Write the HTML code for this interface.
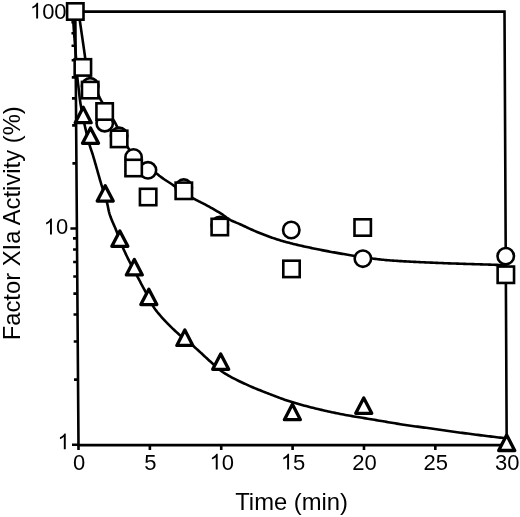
<!DOCTYPE html>
<html><head><meta charset="utf-8"><title>Factor XIa Activity</title>
<style>html,body{margin:0;padding:0;background:#fff}body{width:520px;height:517px;overflow:hidden;font-family:"Liberation Sans",sans-serif}svg{display:block}svg{filter:grayscale(1)}</style>
</head><body>
<svg width="520" height="517" viewBox="0 0 520 517">
<rect width="520" height="517" fill="#fff"/>
<polygon points="75.3,11.6 504.5,11.6 506.7,445.1 78.5,445.1" fill="none" stroke="#000" stroke-width="2.6" stroke-linejoin="miter"/>
<path d="M78.50,444.70h-6.5 M78.02,379.62h-4.0 M77.74,341.55h-4.0 M77.54,314.53h-4.0 M77.38,293.58h-4.0 M77.26,276.46h-4.0 M77.15,261.99h-4.0 M77.06,249.45h-4.0 M76.97,238.39h-4.0 M76.90,228.50h-6.5 M76.42,163.42h-4.0 M76.14,125.35h-4.0 M75.94,98.33h-4.0 M75.79,77.38h-4.0 M75.66,60.26h-4.0 M75.55,45.79h-4.0 M75.46,33.25h-4.0 M75.38,22.19h-4.0 M75.31,12.30h-6.5 M78.50,445.1v5.0 M149.87,445.1v5.0 M221.23,445.1v5.0 M292.60,445.1v5.0 M363.97,445.1v5.0 M435.33,445.1v5.0 M506.70,445.1v5.0" stroke="#000" stroke-width="2.6" fill="none"/>
<path d="M78.60,12.00 L78.80,13.37 L78.99,14.75 L79.19,16.12 L79.38,17.50 L79.58,18.87 L79.78,20.24 L79.97,21.62 L80.17,22.99 L80.37,24.37 L80.57,25.74 L80.77,27.11 L80.97,28.49 L81.16,29.86 L81.36,31.24 L81.56,32.61 L81.76,33.98 L81.96,35.36 L82.16,36.73 L82.36,38.10 L82.56,39.48 L82.76,40.85 L82.96,42.23 L83.16,43.60 L83.35,44.97 L83.55,46.35 L83.75,47.72 L83.94,49.10 L84.14,50.47 L84.33,51.84 L84.53,53.22 L84.72,54.59 L84.91,55.97 L85.09,57.35 L85.26,58.74 L85.42,60.12 L85.60,61.50 L85.80,62.87 L86.04,64.22 L86.31,65.55 L86.62,66.88 L86.96,68.21 L87.32,69.53 L87.72,70.85 L88.14,72.17 L88.59,73.48 L89.06,74.78 L89.55,76.09 L90.07,77.39 L90.60,78.68 L91.14,79.97 L91.71,81.26 L92.28,82.54 L92.87,83.82 L93.46,85.10 L94.07,86.37 L94.68,87.64 L95.30,88.90 L95.92,90.16 L96.54,91.42 L97.16,92.67 L97.79,93.92 L98.40,95.17 L99.02,96.42 L99.63,97.66 L100.27,98.88 L100.94,100.10 L101.64,101.30 L102.34,102.50 L103.05,103.69 L103.78,104.88 L104.52,106.05 L105.27,107.22 L106.03,108.38 L106.79,109.54 L107.56,110.70 L108.33,111.86 L109.10,113.02 L109.87,114.18 L110.62,115.34 L111.37,116.51 L112.11,117.68 L112.84,118.87 L113.54,120.06 L114.23,121.26 L114.90,122.47 L115.55,123.70 L116.19,124.94 L116.82,126.18 L117.43,127.43 L118.04,128.69 L118.64,129.95 L119.24,131.22 L119.84,132.48 L120.43,133.75 L121.03,135.01 L121.64,136.27 L122.25,137.52 L122.87,138.76 L123.50,140.00 L124.15,141.22 L124.81,142.43 L125.48,143.63 L126.18,144.81 L126.90,145.98 L127.64,147.13 L128.41,148.28 L129.19,149.43 L129.99,150.58 L130.80,151.72 L131.64,152.86 L132.49,153.99 L133.36,155.10 L134.25,156.19 L135.15,157.27 L136.07,158.32 L137.01,159.34 L137.96,160.33 L138.93,161.30 L139.91,162.22 L140.93,163.11 L141.98,163.95 L143.08,164.77 L144.21,165.55 L145.37,166.32 L146.55,167.06 L147.74,167.80 L148.95,168.53 L150.15,169.26 L151.36,169.99 L152.55,170.73 L153.73,171.49 L154.90,172.27 L156.03,173.07 L157.13,173.92 L158.19,174.81 L159.25,175.71 L160.35,176.56 L161.46,177.38 L162.59,178.18 L163.73,178.97 L164.88,179.74 L166.04,180.51 L167.21,181.27 L168.38,182.02 L169.55,182.77 L170.72,183.52 L171.88,184.28 L173.05,185.04 L174.21,185.80 L175.36,186.58 L176.51,187.36 L177.66,188.14 L178.80,188.93 L179.95,189.72 L181.10,190.50 L182.24,191.29 L183.39,192.08 L184.54,192.86 L185.70,193.63 L186.85,194.40 L188.02,195.15 L189.18,195.90 L190.36,196.64 L191.54,197.36 L192.73,198.07 L193.92,198.76 L195.14,199.43 L196.36,200.08 L197.59,200.71 L198.83,201.34 L200.08,201.96 L201.32,202.58 L202.57,203.20 L203.81,203.83 L205.04,204.47 L206.26,205.12 L207.48,205.79 L208.70,206.46 L209.91,207.13 L211.12,207.81 L212.33,208.49 L213.54,209.18 L214.75,209.87 L215.95,210.57 L217.14,211.28 L218.34,211.99 L219.52,212.71 L220.70,213.44 L221.87,214.18 L223.02,214.95 L224.16,215.77 L225.28,216.60 L226.40,217.43 L227.53,218.25 L228.68,219.02 L229.86,219.72 L231.07,220.36 L232.32,220.95 L233.58,221.52 L234.87,222.06 L236.16,222.59 L237.45,223.11 L238.74,223.65 L240.01,224.21 L241.28,224.78 L242.54,225.36 L243.79,225.96 L245.05,226.55 L246.30,227.15 L247.56,227.75 L248.82,228.34 L250.07,228.92 L251.34,229.50 L252.60,230.06 L253.88,230.61 L255.15,231.15 L256.44,231.67 L257.72,232.19 L259.01,232.71 L260.30,233.23 L261.59,233.75 L262.88,234.25 L264.18,234.76 L265.48,235.26 L266.78,235.75 L268.09,236.24 L269.39,236.71 L270.70,237.19 L272.01,237.65 L273.32,238.11 L274.64,238.55 L275.95,238.99 L277.27,239.42 L278.59,239.84 L279.92,240.25 L281.24,240.64 L282.57,241.03 L283.90,241.41 L285.23,241.78 L286.57,242.15 L287.91,242.51 L289.25,242.86 L290.60,243.21 L291.94,243.55 L293.29,243.89 L294.64,244.22 L295.99,244.55 L297.34,244.87 L298.70,245.19 L300.05,245.51 L301.41,245.82 L302.77,246.12 L304.12,246.42 L305.48,246.72 L306.84,247.02 L308.19,247.31 L309.55,247.60 L310.91,247.89 L312.26,248.18 L313.62,248.46 L314.98,248.74 L316.34,249.02 L317.70,249.29 L319.06,249.56 L320.42,249.83 L321.78,250.10 L323.14,250.37 L324.51,250.63 L325.87,250.89 L327.24,251.15 L328.60,251.40 L329.97,251.66 L331.33,251.91 L332.70,252.16 L334.07,252.40 L335.43,252.65 L336.80,252.89 L338.17,253.14 L339.54,253.38 L340.90,253.61 L342.27,253.85 L343.64,254.09 L345.01,254.32 L346.38,254.55 L347.75,254.78 L349.12,255.01 L350.49,255.24 L351.86,255.46 L353.23,255.69 L354.59,255.91 L355.96,256.14 L357.33,256.36 L358.71,256.58 L360.08,256.80 L361.45,257.01 L362.82,257.23 L364.19,257.44 L365.57,257.64 L366.94,257.84 L368.32,258.03 L369.69,258.22 L371.07,258.40 L372.44,258.57 L373.82,258.74 L375.20,258.90 L376.58,259.07 L377.96,259.23 L379.34,259.39 L380.72,259.54 L382.10,259.69 L383.48,259.83 L384.86,259.96 L386.24,260.09 L387.63,260.21 L389.01,260.32 L390.39,260.43 L391.78,260.53 L393.16,260.63 L394.54,260.72 L395.93,260.81 L397.31,260.90 L398.70,260.99 L400.08,261.08 L401.47,261.17 L402.85,261.25 L404.24,261.33 L405.62,261.41 L407.01,261.49 L408.39,261.56 L409.78,261.64 L411.17,261.71 L412.55,261.78 L413.94,261.85 L415.33,261.92 L416.71,261.99 L418.10,262.05 L419.49,262.12 L420.88,262.18 L422.26,262.25 L423.65,262.31 L425.04,262.37 L426.43,262.43 L427.81,262.49 L429.20,262.55 L430.59,262.61 L431.97,262.67 L433.36,262.73 L434.75,262.79 L436.14,262.84 L437.52,262.90 L438.91,262.96 L440.30,263.01 L441.68,263.07 L443.07,263.12 L444.46,263.18 L445.84,263.23 L447.23,263.28 L448.62,263.33 L450.01,263.38 L451.39,263.43 L452.78,263.48 L454.17,263.52 L455.55,263.57 L456.94,263.62 L458.33,263.66 L459.72,263.71 L461.10,263.75 L462.49,263.80 L463.88,263.84 L465.27,263.88 L466.65,263.93 L468.04,263.97 L469.43,264.01 L470.82,264.06 L472.20,264.10 L473.59,264.14 L474.98,264.18 L476.37,264.23 L477.75,264.27 L479.14,264.31 L480.53,264.35 L481.92,264.40 L483.30,264.44 L484.69,264.48 L486.08,264.53 L487.47,264.57 L488.85,264.62 L490.24,264.66 L491.63,264.71 L493.02,264.75 L494.40,264.80 L495.79,264.85 L497.18,264.90 L498.56,264.94 L499.95,265.00 L501.34,265.05 L502.73,265.10 L504.11,265.15 L505.50,265.20" stroke="#000" stroke-width="2.6" fill="none" stroke-linejoin="round"/>
<path d="M73.00,14.00 L73.07,15.74 L73.14,17.48 L73.21,19.22 L73.30,20.96 L73.39,22.70 L73.49,24.43 L73.60,26.17 L73.71,27.91 L73.83,29.65 L73.96,31.38 L74.08,33.12 L74.22,34.86 L74.35,36.59 L74.49,38.33 L74.63,40.06 L74.77,41.80 L74.91,43.53 L75.05,45.27 L75.19,47.01 L75.33,48.74 L75.46,50.48 L75.60,52.22 L75.72,53.95 L75.85,55.69 L75.97,57.43 L76.08,59.16 L76.19,60.90 L76.30,62.64 L76.41,64.38 L76.52,66.12 L76.63,67.86 L76.75,69.59 L76.87,71.33 L77.00,73.07 L77.13,74.80 L77.27,76.54 L77.42,78.27 L77.60,80.00 L77.80,81.73 L78.01,83.46 L78.23,85.19 L78.45,86.91 L78.66,88.64 L78.86,90.37 L79.05,92.10 L79.24,93.83 L79.43,95.57 L79.63,97.30 L79.84,99.02 L80.07,100.75 L80.31,102.47 L80.58,104.20 L80.86,105.91 L81.17,107.63 L81.48,109.34 L81.79,111.05 L82.12,112.76 L82.45,114.47 L82.79,116.18 L83.13,117.89 L83.48,119.60 L83.84,121.31 L84.21,123.01 L84.58,124.72 L84.96,126.42 L85.34,128.12 L85.73,129.82 L86.13,131.51 L86.54,133.21 L86.96,134.90 L87.38,136.59 L87.80,138.28 L88.24,139.96 L88.68,141.64 L89.13,143.32 L89.59,144.99 L90.10,146.66 L90.63,148.31 L91.19,149.96 L91.75,151.62 L92.30,153.27 L92.83,154.93 L93.34,156.59 L93.83,158.26 L94.33,159.93 L94.81,161.60 L95.29,163.28 L95.77,164.95 L96.24,166.63 L96.72,168.30 L97.19,169.98 L97.66,171.66 L98.13,173.33 L98.60,175.01 L99.08,176.68 L99.56,178.36 L100.04,180.03 L100.53,181.70 L101.02,183.37 L101.53,185.04 L102.05,186.70 L102.59,188.36 L103.13,190.02 L103.67,191.67 L104.21,193.33 L104.75,194.99 L105.28,196.65 L105.79,198.31 L106.28,199.98 L106.74,201.66 L107.18,203.34 L107.58,205.03 L107.93,206.74 L108.27,208.46 L108.62,210.17 L109.00,211.86 L109.45,213.53 L109.96,215.18 L110.53,216.82 L111.14,218.44 L111.79,220.06 L112.47,221.67 L113.17,223.27 L113.87,224.88 L114.57,226.48 L115.26,228.09 L115.93,229.70 L116.57,231.32 L117.20,232.94 L117.82,234.57 L118.44,236.20 L119.05,237.83 L119.67,239.46 L120.29,241.09 L120.92,242.71 L121.56,244.33 L122.21,245.94 L122.88,247.55 L123.57,249.15 L124.27,250.73 L125.00,252.32 L125.73,253.90 L126.48,255.47 L127.24,257.04 L128.01,258.60 L128.78,260.17 L129.56,261.72 L130.34,263.28 L131.13,264.83 L131.94,266.37 L132.75,267.91 L133.57,269.45 L134.40,270.98 L135.23,272.51 L136.05,274.05 L136.87,275.58 L137.69,277.12 L138.51,278.66 L139.33,280.19 L140.14,281.73 L140.96,283.27 L141.78,284.81 L142.59,286.34 L143.41,287.88 L144.23,289.42 L145.04,290.96 L145.84,292.51 L146.62,294.07 L147.40,295.64 L148.17,297.21 L148.95,298.78 L149.75,300.33 L150.56,301.88 L151.39,303.40 L152.26,304.89 L153.17,306.36 L154.13,307.79 L155.14,309.21 L156.19,310.60 L157.27,311.98 L158.38,313.33 L159.51,314.67 L160.64,315.99 L161.78,317.29 L162.94,318.59 L164.11,319.87 L165.30,321.15 L166.51,322.41 L167.72,323.66 L168.95,324.90 L170.19,326.13 L171.44,327.35 L172.69,328.56 L173.96,329.77 L175.23,330.96 L176.51,332.14 L177.79,333.31 L179.08,334.47 L180.40,335.61 L181.73,336.72 L183.07,337.83 L184.43,338.92 L185.79,340.01 L187.16,341.09 L188.53,342.18 L189.89,343.27 L191.25,344.36 L192.59,345.47 L193.92,346.59 L195.24,347.73 L196.54,348.88 L197.84,350.04 L199.13,351.21 L200.41,352.39 L201.69,353.57 L202.97,354.76 L204.24,355.95 L205.51,357.13 L206.79,358.32 L208.07,359.50 L209.36,360.68 L210.65,361.84 L211.95,363.00 L213.26,364.15 L214.56,365.30 L215.87,366.47 L217.18,367.64 L218.50,368.79 L219.84,369.91 L221.20,370.97 L222.60,371.97 L224.03,372.92 L225.49,373.84 L226.97,374.73 L228.48,375.61 L230.00,376.46 L231.54,377.29 L233.09,378.10 L234.65,378.90 L236.22,379.69 L237.80,380.46 L239.37,381.22 L240.95,381.97 L242.53,382.72 L244.11,383.46 L245.68,384.19 L247.26,384.91 L248.85,385.62 L250.44,386.32 L252.04,387.01 L253.64,387.69 L255.25,388.36 L256.86,389.02 L258.48,389.68 L260.10,390.33 L261.72,390.98 L263.34,391.62 L264.96,392.25 L266.59,392.88 L268.21,393.51 L269.84,394.14 L271.46,394.76 L273.09,395.39 L274.71,396.01 L276.34,396.64 L277.97,397.26 L279.61,397.87 L281.24,398.48 L282.88,399.07 L284.52,399.65 L286.17,400.22 L287.82,400.78 L289.47,401.31 L291.13,401.83 L292.79,402.33 L294.45,402.82 L296.12,403.30 L297.79,403.78 L299.47,404.25 L301.14,404.72 L302.82,405.18 L304.50,405.64 L306.18,406.09 L307.87,406.53 L309.56,406.97 L311.25,407.40 L312.94,407.83 L314.63,408.25 L316.33,408.66 L318.02,409.07 L319.72,409.48 L321.42,409.88 L323.12,410.27 L324.82,410.66 L326.52,411.04 L328.22,411.42 L329.92,411.79 L331.63,412.16 L333.33,412.53 L335.03,412.88 L336.74,413.24 L338.44,413.59 L340.15,413.93 L341.85,414.27 L343.56,414.59 L345.27,414.92 L346.98,415.23 L348.69,415.54 L350.41,415.84 L352.12,416.13 L353.84,416.43 L355.56,416.71 L357.28,417.00 L359.00,417.28 L360.72,417.56 L362.44,417.84 L364.16,418.12 L365.88,418.40 L367.60,418.69 L369.31,418.97 L371.03,419.25 L372.75,419.54 L374.47,419.83 L376.18,420.12 L377.90,420.42 L379.62,420.71 L381.33,421.01 L383.05,421.30 L384.77,421.59 L386.48,421.89 L388.20,422.18 L389.92,422.47 L391.63,422.76 L393.35,423.05 L395.07,423.33 L396.79,423.61 L398.51,423.89 L400.23,424.16 L401.94,424.43 L403.67,424.70 L405.39,424.96 L407.11,425.21 L408.83,425.46 L410.55,425.71 L412.28,425.95 L414.00,426.19 L415.73,426.43 L417.45,426.66 L419.18,426.89 L420.91,427.13 L422.63,427.36 L424.36,427.59 L426.08,427.82 L427.81,428.05 L429.54,428.28 L431.26,428.52 L432.99,428.76 L434.71,429.00 L436.43,429.24 L438.16,429.49 L439.88,429.74 L441.60,429.99 L443.33,430.24 L445.05,430.49 L446.77,430.74 L448.50,430.99 L450.22,431.24 L451.94,431.49 L453.67,431.73 L455.39,431.97 L457.12,432.21 L458.84,432.45 L460.57,432.68 L462.29,432.90 L464.02,433.13 L465.75,433.36 L467.47,433.58 L469.20,433.81 L470.93,434.03 L472.65,434.25 L474.38,434.47 L476.11,434.69 L477.83,434.91 L479.56,435.13 L481.29,435.34 L483.02,435.56 L484.75,435.77 L486.47,435.98 L488.20,436.19 L489.93,436.40 L491.66,436.61 L493.39,436.81 L495.12,437.02 L496.85,437.22 L498.58,437.42 L500.31,437.62 L502.04,437.81 L503.77,438.01 L505.50,438.20" stroke="#000" stroke-width="2.6" fill="none" stroke-linejoin="round"/>
<circle cx="90.15" cy="86.3" r="8.2" fill="#fff" stroke="#000" stroke-width="2.6"/>
<circle cx="104.72" cy="123.2" r="8.2" fill="#fff" stroke="#000" stroke-width="2.6"/>
<circle cx="119.11" cy="135.8" r="8.2" fill="#fff" stroke="#000" stroke-width="2.6"/>
<circle cx="133.56" cy="157.4" r="8.2" fill="#fff" stroke="#000" stroke-width="2.6"/>
<circle cx="147.94" cy="170.3" r="8.2" fill="#fff" stroke="#000" stroke-width="2.6"/>
<circle cx="183.80" cy="187.6" r="8.2" fill="#fff" stroke="#000" stroke-width="2.6"/>
<circle cx="219.78" cy="225" r="8.2" fill="#fff" stroke="#000" stroke-width="2.6"/>
<circle cx="291.26" cy="230" r="8.2" fill="#fff" stroke="#000" stroke-width="2.6"/>
<circle cx="362.88" cy="258.65" r="8.2" fill="#fff" stroke="#000" stroke-width="2.6"/>
<circle cx="505.74" cy="256.15" r="8.2" fill="#fff" stroke="#000" stroke-width="2.6"/>
<rect x="67.10" y="3.30" width="16.4" height="16.4" fill="#fff" stroke="#000" stroke-width="2.6"/>
<rect x="74.66" y="59.20" width="16.4" height="16.4" fill="#fff" stroke="#000" stroke-width="2.6"/>
<rect x="81.98" y="81.90" width="16.4" height="16.4" fill="#fff" stroke="#000" stroke-width="2.6"/>
<rect x="96.44" y="103.30" width="16.4" height="16.4" fill="#fff" stroke="#000" stroke-width="2.6"/>
<rect x="110.93" y="130.70" width="16.4" height="16.4" fill="#fff" stroke="#000" stroke-width="2.6"/>
<rect x="125.43" y="159.80" width="16.4" height="16.4" fill="#fff" stroke="#000" stroke-width="2.6"/>
<rect x="139.93" y="188.80" width="16.4" height="16.4" fill="#fff" stroke="#000" stroke-width="2.6"/>
<rect x="175.62" y="182.60" width="16.4" height="16.4" fill="#fff" stroke="#000" stroke-width="2.6"/>
<rect x="211.59" y="218.80" width="16.4" height="16.4" fill="#fff" stroke="#000" stroke-width="2.6"/>
<rect x="283.30" y="260.70" width="16.4" height="16.4" fill="#fff" stroke="#000" stroke-width="2.6"/>
<rect x="354.50" y="219.30" width="16.4" height="16.4" fill="#fff" stroke="#000" stroke-width="2.6"/>
<rect x="497.64" y="266.55" width="16.4" height="16.4" fill="#fff" stroke="#000" stroke-width="2.6"/>
<polygon points="83.21,107.30 91.21,122.70 75.21,122.70" fill="#fff" stroke="#000" stroke-width="3.3" stroke-linejoin="round"/>
<polygon points="90.51,127.90 98.51,143.30 82.51,143.30" fill="#fff" stroke="#000" stroke-width="3.3" stroke-linejoin="round"/>
<polygon points="105.23,185.65 113.23,201.05 97.23,201.05" fill="#fff" stroke="#000" stroke-width="3.3" stroke-linejoin="round"/>
<polygon points="119.84,230.90 127.84,246.30 111.84,246.30" fill="#fff" stroke="#000" stroke-width="3.3" stroke-linejoin="round"/>
<polygon points="134.33,259.50 142.33,274.90 126.33,274.90" fill="#fff" stroke="#000" stroke-width="3.3" stroke-linejoin="round"/>
<polygon points="148.83,289.15 156.83,304.55 140.83,304.55" fill="#fff" stroke="#000" stroke-width="3.3" stroke-linejoin="round"/>
<polygon points="184.82,330.00 192.82,345.40 176.82,345.40" fill="#fff" stroke="#000" stroke-width="3.3" stroke-linejoin="round"/>
<polygon points="220.68,353.95 228.68,369.35 212.68,369.35" fill="#fff" stroke="#000" stroke-width="3.3" stroke-linejoin="round"/>
<polygon points="292.39,404.25 300.39,419.65 284.39,419.65" fill="#fff" stroke="#000" stroke-width="3.3" stroke-linejoin="round"/>
<polygon points="363.74,397.95 371.74,413.35 355.74,413.35" fill="#fff" stroke="#000" stroke-width="3.3" stroke-linejoin="round"/>
<polygon points="506.69,435.10 514.69,450.50 498.69,450.50" fill="#fff" stroke="#000" stroke-width="3.3" stroke-linejoin="round"/>
<g font-family="Liberation Sans, sans-serif" font-size="22" fill="#000">
<path transform="translate(29.90,18.59) scale(0.01074,-0.01074)" d="M763 0H583V1147Q518 1085 412.5 1023Q307 961 223 930V1104Q374 1175 487 1276Q600 1377 647 1472H763Z"/><text x="42.13" y="18.59">0</text><text x="54.37" y="18.59">0</text>
<path transform="translate(43.73,234.39) scale(0.01074,-0.01074)" d="M763 0H583V1147Q518 1085 412.5 1023Q307 961 223 930V1104Q374 1175 487 1276Q600 1377 647 1472H763Z"/><text x="55.97" y="234.39">0</text>
<path transform="translate(57.56,449.19) scale(0.01074,-0.01074)" d="M763 0H583V1147Q518 1085 412.5 1023Q307 961 223 930V1104Q374 1175 487 1276Q600 1377 647 1472H763Z"/>
<text x="72.88" y="469.50">0</text>
<text x="144.25" y="469.50">5</text>
<path transform="translate(209.50,469.50) scale(0.01074,-0.01074)" d="M763 0H583V1147Q518 1085 412.5 1023Q307 961 223 930V1104Q374 1175 487 1276Q600 1377 647 1472H763Z"/><text x="221.73" y="469.50">0</text>
<path transform="translate(280.86,469.50) scale(0.01074,-0.01074)" d="M763 0H583V1147Q518 1085 412.5 1023Q307 961 223 930V1104Q374 1175 487 1276Q600 1377 647 1472H763Z"/><text x="293.10" y="469.50">5</text>
<text x="352.23" y="469.50">2</text><text x="364.47" y="469.50">0</text>
<text x="423.60" y="469.50">2</text><text x="435.83" y="469.50">5</text>
<text x="494.96" y="469.50">3</text><text x="507.20" y="469.50">0</text>
</g>
<g font-family="Liberation Sans, sans-serif" font-size="23.8" fill="#000">
<text x="291.6" y="510.0" text-anchor="middle">Time (min)</text>
<text transform="translate(19.9,223.3) rotate(-90)" text-anchor="middle">Factor XIa Activity (%)</text>
</g>
</svg>
</body></html>
